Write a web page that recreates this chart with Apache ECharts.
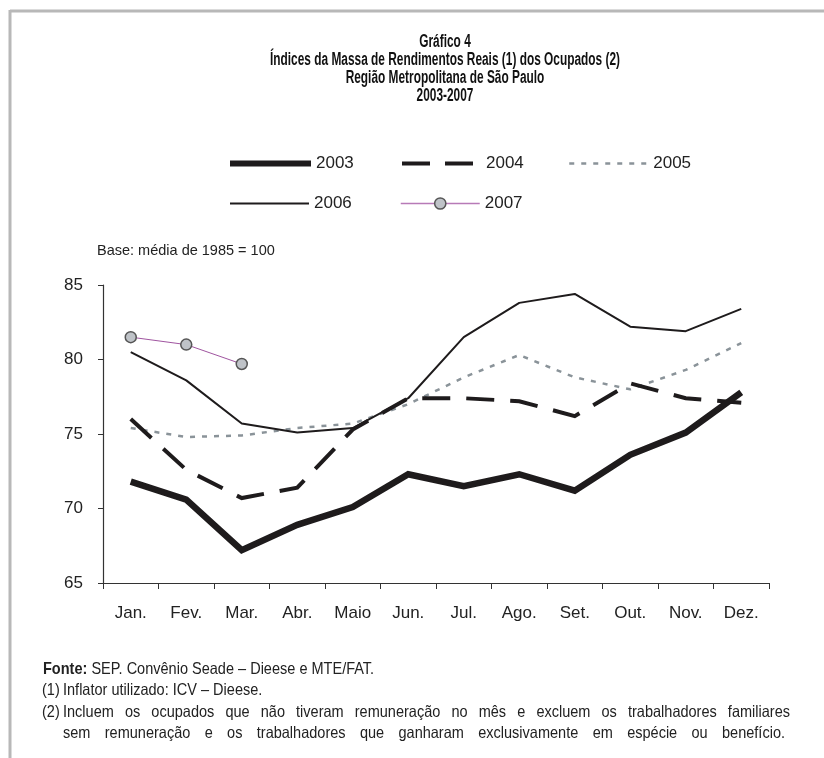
<!DOCTYPE html>
<html>
<head>
<meta charset="utf-8">
<script src="https://cdn.jsdelivr.net/npm/echarts@6/dist/echarts.min.js"></script>
<style>
html,body{margin:0;padding:0;background:#fff;}
#c{width:824px;height:758px;}
</style>
</head>
<body>
<div id="c"></div>
<script>
var months = ['Jan.','Fev.','Mar.','Abr.','Maio','Jun.','Jul.','Ago.','Set.','Out.','Nov.','Dez.'];
var s2003 = [71.8, 70.6, 67.2, 68.9, 70.1, 72.3, 71.5, 72.3, 71.2, 73.6, 75.1, 77.8];
var s2004 = [76.0, 72.6, 70.7, 71.4, 75.3, 77.4, 77.4, 77.2, 76.2, 78.4, 77.4, 77.1];
var s2005 = [75.4, 74.8, 74.9, 75.4, 75.7, 77.0, 78.8, 80.3, 78.8, 78.0, 79.3, 81.1];
var s2006 = [80.5, 78.6, 75.7, 75.1, 75.4, 77.4, 81.5, 83.8, 84.4, 82.2, 81.9, 83.4];
var s2007 = [81.5, 81.0, 79.7];
var yTicks = [65, 70, 75, 80, 85];

var titleLines = ['Gráfico 4', 'Índices da Massa de Rendimentos Reais (1) dos Ocupados (2)', 'Região Metropolitana de São Paulo', '2003-2007'];
var noteSource = ['Fonte:', ' SEP. Convênio Seade – Dieese e MTE/FAT.'];
var note1 = ['(1)', 'Inflator utilizado: ICV – Dieese.'];
var note2 = ['(2)', 'Incluem os ocupados que não tiveram remuneração no mês e excluem os trabalhadores familiares', 'sem remuneração e os trabalhadores que ganharam exclusivamente em espécie ou benefício.'];

var FS = '"Liberation Sans", Arial, sans-serif';

var mctx = document.createElement('canvas').getContext('2d');
function textW(txt, size, weight) {
  mctx.font = (weight || 'normal') + ' ' + size + 'px ' + FS;
  return mctx.measureText(txt).width;
}
var TITLE_SIZE = 17.5, NOTE_SIZE = 16.5, NOTE_SCALE = 0.88;
var titleScale = 350 / textW(titleLines[1], TITLE_SIZE, 'bold');

var chart = echarts.init(document.getElementById('c'));

function legendItem(name, left, top, w, lineStyle, itemStyle) {
  return {
    data: [{name: name, lineStyle: lineStyle, itemStyle: itemStyle}],
    left: left, top: top, itemWidth: w, itemHeight: 14,
    padding: 0, selectedMode: false,
    textStyle: {fontFamily: FS, fontSize: 17, color: '#222'}
  };
}
var hidden = {opacity: 0};

function noteText(x, y, txt, rich) {
  var st = {text: txt, fontFamily: FS, fontSize: NOTE_SIZE, fill: '#222', textVerticalAlign: 'middle'};
  if (rich) st.rich = {b: {fontWeight: 'bold', fontFamily: FS, fontSize: NOTE_SIZE, fill: '#222'}};
  return {type: 'text', x: x, y: y, scaleX: NOTE_SCALE, style: st};
}
// justified line: words spread between x0 and x1
function justified(x0, x1, y, txt) {
  var words = txt.split(' ');
  var widths = words.map(function (w) { return textW(w, NOTE_SIZE) * NOTE_SCALE; });
  var total = widths.reduce(function (a, b) { return a + b; }, 0);
  var gap = (x1 - x0 - total) / (words.length - 1);
  var out = [], x = x0;
  words.forEach(function (w, i) {
    out.push(noteText(x, y, w));
    x += widths[i] + gap;
  });
  return out;
}

var graphics = [
  {type: 'line', shape: {x1: 10, y1: 11, x2: 824, y2: 11}, style: {stroke: '#b8b8b8', lineWidth: 3}},
  {type: 'line', shape: {x1: 10, y1: 10, x2: 10, y2: 758}, style: {stroke: '#b8b8b8', lineWidth: 3}},
  {type: 'text', x: 97, y: 251, style: {text: 'Base: média de 1985 = 100', fontFamily: FS, fontSize: 14.5, fill: '#222', textVerticalAlign: 'middle'}},
  noteText(43, 669, '{b|' + noteSource[0] + '}' + noteSource[1], true),
  noteText(42, 690, note1[0]),
  noteText(63, 690, note1[1]),
  noteText(42, 712, note2[0])
].concat(justified(63, 790, 712, note2[1]), justified(63, 785, 733, note2[2]));

titleLines.forEach(function (t, i) {
  graphics.push({type: 'text', x: 445, y: 42 + i * 18, scaleX: titleScale,
    style: {text: t, fontFamily: FS, fontSize: TITLE_SIZE, fontWeight: 'bold', fill: '#111', textAlign: 'center', textVerticalAlign: 'middle'}});
});

var option = {
  backgroundColor: '#fff',
  animation: false,
  legend: [
    legendItem('2003', 227, 155, 81, {width: 6, color: '#1e1b1c', type: 'solid'}, hidden),
    legendItem('2004', 400, 155, 79, {width: 4, color: '#1e1b1c', type: [28, 15]}, hidden),
    legendItem('2005', 568, 155, 79, {width: 2.5, color: '#8a9399', type: [5, 7]}, hidden),
    legendItem('2006', 229, 195, 79, {width: 2, color: '#1e1b1c', type: 'solid'}, hidden),
    legendItem('2007', 400, 195, 79, {width: 1.5, color: '#b77ab7', type: 'solid'}, {color: '#bfc3c8', borderColor: '#555', borderWidth: 1.5})
  ],
  grid: {left: 103, right: 55, top: 285, bottom: 175},
  xAxis: {
    type: 'category', data: months, boundaryGap: true,
    axisLine: {show: true, lineStyle: {color: '#333', width: 1.2}},
    axisTick: {show: true, length: 6, alignWithLabel: false, lineStyle: {color: '#333'}},
    axisLabel: {fontFamily: FS, fontSize: 17, color: '#222', margin: 22, interval: 0},
    splitLine: {show: false}
  },
  yAxis: {
    type: 'value', min: yTicks[0], max: yTicks[yTicks.length - 1], interval: 5,
    axisLine: {show: true, lineStyle: {color: '#333', width: 1.2}},
    axisTick: {show: true, length: 5, lineStyle: {color: '#333'}},
    axisLabel: {fontFamily: FS, fontSize: 17, color: '#222', margin: 20},
    splitLine: {show: false}
  },
  series: [
    {name: '2003', type: 'line', data: s2003, symbol: 'none', z: 5,
     lineStyle: {color: '#1e1b1c', width: 6.5, join: 'miter'}, itemStyle: {color: '#1e1b1c'}},
    {name: '2004', type: 'line', data: s2004, symbol: 'none', z: 4,
     lineStyle: {color: '#1e1b1c', width: 4, type: [28, 16], join: 'miter'}, itemStyle: {color: '#1e1b1c'}},
    {name: '2005', type: 'line', data: s2005, symbol: 'none', z: 3,
     lineStyle: {color: '#8a9399', width: 2.5, type: [5, 7]}, itemStyle: {color: '#8a9399'}},
    {name: '2006', type: 'line', data: s2006, symbol: 'none', z: 3,
     lineStyle: {color: '#1e1b1c', width: 2}, itemStyle: {color: '#1e1b1c'}},
    {name: '2007', type: 'line', data: s2007, symbol: 'circle', symbolSize: 11, z: 6,
     lineStyle: {color: '#a055a0', width: 1},
     itemStyle: {color: '#bfc3c8', borderColor: '#555', borderWidth: 1.5}}
  ],
  graphic: graphics
};
chart.setOption(option);
</script>
</body>
</html>
